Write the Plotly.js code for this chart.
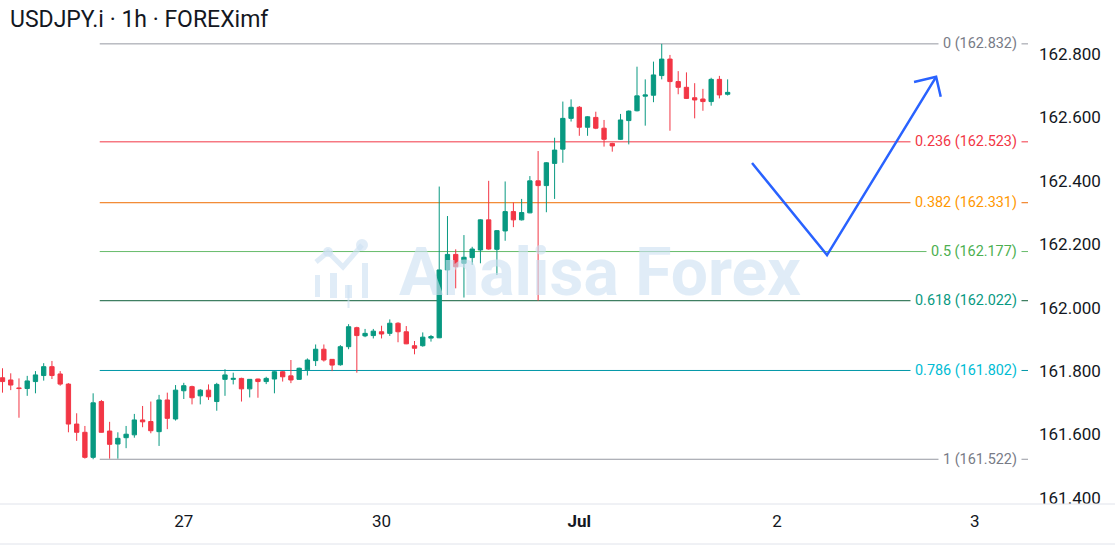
<!DOCTYPE html>
<html>
<head>
<meta charset="utf-8">
<script src="https://cdn.plot.ly/plotly-3.0.1.min.js"></script>
<style>html,body{margin:0;padding:0;background:#fff;}#chart{width:1115px;height:545px;}</style>
</head>
<body>
<div id="chart"></div>
<script>
// ---- Data (hourly candles, index 0..88) ----
const openP = [161.779,161.772,161.747,161.745,161.767,161.786,161.814,161.791,161.759,161.633,
161.607,161.528,161.704,161.611,161.570,161.590,161.599,161.646,161.641,161.609,
161.709,161.649,161.738,161.751,161.722,161.740,161.704,161.774,161.774,161.777,
161.744,161.775,161.767,161.775,161.798,161.785,161.774,161.804,161.833,161.869,
161.837,161.820,161.877,161.937,161.911,161.912,161.924,161.919,161.951,161.924,
161.880,161.880,161.904,161.905,162.119,162.168,162.140,162.158,162.182,162.277,
162.184,162.242,162.303,162.277,162.299,162.400,162.385,162.455,162.500,162.597,
162.632,162.569,162.600,162.566,162.518,162.531,162.590,162.621,162.667,162.670,
162.732,162.784,162.713,162.695,162.662,162.658,162.650,162.720,162.673];
const highP = [161.809,161.793,161.777,161.785,161.800,161.825,161.832,161.800,161.762,161.667,
161.627,161.730,161.709,161.640,161.607,161.627,161.665,161.690,161.704,161.725,
161.732,161.756,161.763,161.754,161.743,161.758,161.763,161.806,161.795,161.779,
161.775,161.776,161.782,161.800,161.800,161.835,161.811,161.840,161.884,161.884,
161.838,161.882,161.948,161.940,161.933,161.933,161.943,161.963,161.954,161.942,
161.895,161.922,161.914,162.382,162.289,162.184,162.229,162.192,162.279,162.400,
162.245,162.398,162.332,162.343,162.415,162.494,162.459,162.536,162.650,162.657,
162.636,162.604,162.618,162.592,162.520,162.611,162.622,162.760,162.720,162.776,
162.832,162.797,162.746,162.742,162.708,162.690,162.725,162.731,162.720];
const lowP = [161.732,161.740,161.653,161.722,161.730,161.770,161.775,161.754,161.607,161.580,
161.524,161.522,161.606,161.524,161.524,161.557,161.590,161.623,161.604,161.564,
161.617,161.644,161.712,161.695,161.695,161.709,161.675,161.722,161.758,161.704,
161.717,161.716,161.759,161.730,161.767,161.762,161.772,161.786,161.816,161.830,
161.800,161.817,161.869,161.795,161.907,161.903,161.903,161.911,161.891,161.885,
161.853,161.877,161.893,161.904,162.040,162.061,162.032,162.135,162.140,162.183,
162.103,162.211,162.254,162.275,162.298,162.022,162.301,162.343,162.457,162.587,
162.542,162.542,162.563,162.508,162.492,162.529,162.515,162.619,162.574,162.648,
162.720,162.558,162.673,162.658,162.597,162.621,162.637,162.660,162.669];
const closeP = [161.767,161.756,161.745,161.769,161.788,161.814,161.786,161.759,161.633,161.607,
161.528,161.700,161.607,161.569,161.588,161.601,161.646,161.640,161.612,161.709,
161.651,161.740,161.754,161.716,161.740,161.719,161.758,161.788,161.777,161.744,
161.774,161.767,161.777,161.798,161.782,161.772,161.809,161.835,161.869,161.835,
161.819,161.877,161.940,161.912,161.919,161.926,161.917,161.951,161.924,161.886,
161.872,161.907,161.909,162.119,162.168,162.129,162.159,162.185,162.277,162.185,
162.243,162.303,162.277,162.300,162.400,162.385,162.457,162.497,162.597,162.632,
162.569,162.602,162.566,162.531,162.510,162.592,162.620,162.668,162.671,162.734,
162.784,162.713,162.695,162.660,162.655,162.650,162.720,162.671,162.679];
const candleIdx = openP.map((_, i) => i);

const dateTickIdx = [22, 46, 70, 94, 118];
const dateTickText = ['27', '30', '<b>Jul</b>', '2', '3'];
const priceTicks = [161.4, 161.6, 161.8, 162.0, 162.2, 162.4, 162.6, 162.8];

const fibLevels = ['0', '0.236', '0.382', '0.5', '0.618', '0.786', '1'];
const fibPrices = [162.832, 162.523, 162.331, 162.177, 162.022, 161.802, 161.522];
const fibStartIdx = 11.8;
const fibLineColors = ['#9598a1', '#f23645', '#ef6c00', '#66bb6a', '#0f5f3a', '#0097a7', '#9598a1'];
const fibTextColors = ['#787b86', '#f23645', '#ff9800', '#4caf50', '#089981', '#00bcd4', '#787b86'];

// blue projection arrow (index, price)
const arrowIdx = [90.96, 100.06, 113.3];
const arrowPrice = [162.456, 162.166, 162.728];
const arrowHeadIdx = [110.62, 113.86];
const arrowHeadPrice = [162.712, 162.665];

// ---- Layout helpers ----
const PW = 1028, PH = 504;
const xRange = [-0.3034, 124.45];
const yRange = [161.3809, 162.9703];
const px = v => v / PW;
const py = v => (PH - v) / PH;

const shapes = [];
fibPrices.forEach((p, i) => {
  shapes.push({type: 'line', xref: 'x', yref: 'y', x0: fibStartIdx, x1: xRange[1], y0: p, y1: p,
    line: {color: fibLineColors[i], width: 1}, layer: 'below'});
});
// arrow
shapes.push({type: 'path', xref: 'x', yref: 'y',
  path: `M ${arrowIdx[0]} ${arrowPrice[0]} L ${arrowIdx[1]} ${arrowPrice[1]} L ${arrowIdx[2]} ${arrowPrice[2]}`,
  line: {color: '#2962ff', width: 2.5}});
shapes.push({type: 'path', xref: 'x', yref: 'y',
  path: `M ${arrowHeadIdx[0]} ${arrowHeadPrice[0]} L ${arrowIdx[2]} ${arrowPrice[2]} L ${arrowHeadIdx[1]} ${arrowHeadPrice[1]}`,
  line: {color: '#2962ff', width: 2.5}});
// separators
shapes.push({type: 'line', xref: 'paper', yref: 'paper', x0: 0, x1: 1115 / PW, y0: 0, y1: 0, line: {color: '#e0e3eb', width: 1}});
shapes.push({type: 'line', xref: 'paper', yref: 'paper', x0: 0, x1: 1115 / PW, y0: py(544), y1: py(544), line: {color: '#e0e3eb', width: 1}});

// watermark icon
const wmFill = 'rgba(205,225,242,0.62)';
[[315, 275, 320, 297], [330, 273, 337, 298], [345, 285, 352, 298], [362, 263, 368, 298]].forEach(r => {
  shapes.push({type: 'rect', xref: 'paper', yref: 'paper', x0: px(r[0]), x1: px(r[2]), y0: py(r[3]), y1: py(r[1]),
    fillcolor: wmFill, line: {width: 0}});
});
shapes.push({type: 'line', xref: 'paper', yref: 'paper', x0: px(348.5), x1: px(348.5), y0: py(308), y1: py(285), line: {color: wmFill, width: 2}});
shapes.push({type: 'path', xref: 'paper', yref: 'paper',
  path: `M ${px(316)} ${py(262)} L ${px(328)} ${py(252)} L ${px(343)} ${py(267)} L ${px(362)} ${py(245)}`,
  line: {color: wmFill, width: 5}});
shapes.push({type: 'circle', xref: 'paper', yref: 'paper', x0: px(323), x1: px(333), y0: py(257), y1: py(247), fillcolor: wmFill, line: {width: 0}});
shapes.push({type: 'circle', xref: 'paper', yref: 'paper', x0: px(356), x1: px(368), y0: py(251), y1: py(239), fillcolor: wmFill, line: {width: 0}});

const annotations = fibPrices.map((p, i) => ({
  xref: 'paper', x: 1, xanchor: 'right', xshift: -6,
  yref: 'y', y: p, yanchor: 'middle',
  text: `${fibLevels[i]} (${p.toFixed(3)})`,
  showarrow: false, bgcolor: '#ffffff', borderpad: 4,
  font: {family: 'Roboto, sans-serif', size: 14.4, color: fibTextColors[i]}
}));
annotations.push({
  xref: 'paper', x: px(600), yref: 'paper', y: py(272), xanchor: 'center', yanchor: 'middle',
  text: '<b>Analisa Forex</b>', showarrow: false,
  font: {family: 'Roboto, sans-serif', size: 66, color: wmFill}
});

const trace = {
  type: 'candlestick',
  x: candleIdx, open: openP, high: highP, low: lowP, close: closeP,
  increasing: {line: {color: '#089981', width: 1}, fillcolor: '#089981'},
  decreasing: {line: {color: '#f23645', width: 1}, fillcolor: '#f23645'},
  whiskerwidth: 0,
  hoverinfo: 'skip'
};

const layout = {
  width: 1115, height: 545, autosize: false,
  margin: {l: 0, r: 87, t: 0, b: 41, pad: 0},
  paper_bgcolor: '#ffffff', plot_bgcolor: '#ffffff',
  showlegend: false,
  boxgap: 0.25,
  title: {
    text: 'USDJPY.i · 1h · FOREXimf',
    xref: 'container', x: 10 / 1115, xanchor: 'left',
    yref: 'container', y: 1 - 18.5 / 545, yanchor: 'middle',
    font: {family: 'Roboto, sans-serif', size: 23, color: '#131722'}
  },
  xaxis: {
    range: xRange, type: 'linear', fixedrange: true,
    rangeslider: {visible: false},
    showgrid: false, zeroline: false, showline: false,
    tickmode: 'array', tickvals: dateTickIdx, ticktext: dateTickText,
    ticks: '', ticklabelstandoff: 5,
    tickfont: {family: 'Roboto, sans-serif', size: 17, color: '#131722'}
  },
  yaxis: {
    range: yRange, side: 'right', fixedrange: true,
    showgrid: false, zeroline: false, showline: false,
    tickmode: 'array', tickvals: priceTicks, ticktext: priceTicks.map(v => v.toFixed(3)),
    ticks: '', ticklabelstandoff: 10,
    tickfont: {family: 'Roboto, sans-serif', size: 17, color: '#131722'}
  },
  shapes: shapes,
  annotations: annotations
};

Plotly.newPlot('chart', [trace], layout, {staticPlot: true, displayModeBar: false});
</script>
</body>
</html>
